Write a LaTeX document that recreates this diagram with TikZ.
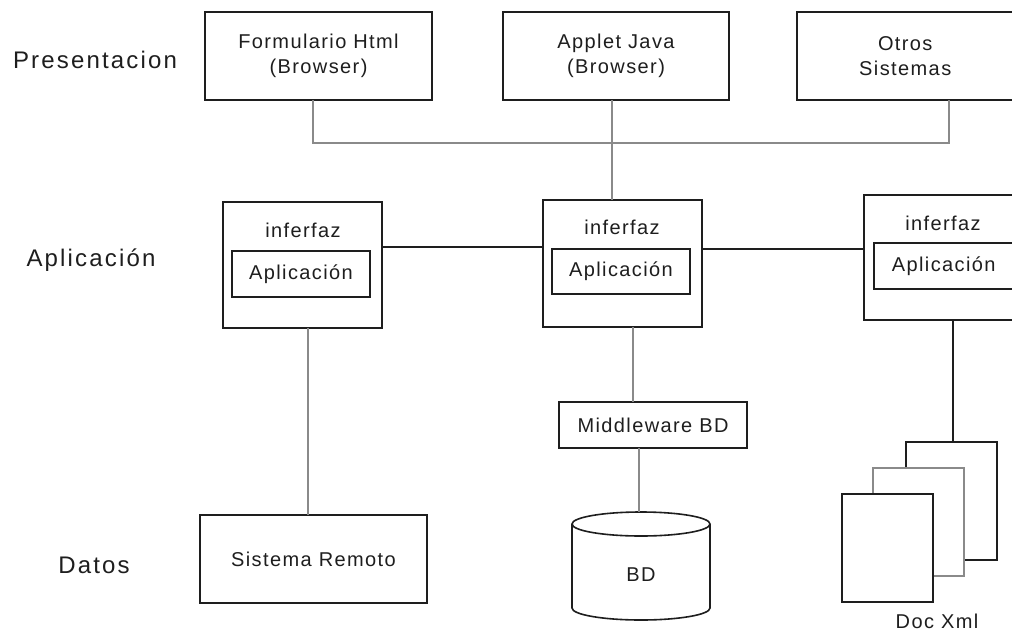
\documentclass[tikz,border=0pt]{standalone}
\usepackage{fontspec}
\setmainfont{Liberation Sans}
\newfontfamily\boxfont[LetterSpace=7]{Liberation Sans}
\newfontfamily\tierfont[LetterSpace=9]{Liberation Sans}
\definecolor{ink}{HTML}{1E1E1E}
\definecolor{linkgrey}{HTML}{8A8A8A}
\tikzset{
  box/.style={draw=ink, line width=1.8pt, fill=white, inner sep=0pt, outer sep=0pt,
    align=center, text=ink, font={\boxfont\fontsize{20}{24.5}\selectfont}},
  txt/.style={inner sep=0pt, text=ink, align=center, font={\boxfont\fontsize{20}{24.5}\selectfont}},
  tier/.style={inner sep=0pt, anchor=base, text=ink, font={\tierfont\fontsize{24}{28}\selectfont}},
  glink/.style={draw=linkgrey, line width=2.6pt},
  blink/.style={draw=ink, line width=1.5pt},
  sheet/.style={draw=ink, line width=1.8pt, fill=white, minimum width=91pt},
}
\begin{document}
\begin{tikzpicture}[x=1pt, y=-1pt]
\path[use as bounding box, clip] (0,0) rectangle (1012,632);
\fill[white] (0,0) rectangle (1012,632);

% tier titles
\node[tier] (tp) at (95,68) {Presentacion};
\node[tier] (ta) at (91,266) {Aplicación};
\node[tier] (td) at (94,573) {Datos};

% presentation layer
\node[box, minimum width=227pt, minimum height=88pt] (form) at (318.5,56) {Formulario Html\\(Browser)};
\node[box, minimum width=226pt, minimum height=88pt] (app) at (616,56) {Applet Java\\(Browser)};
\node[box, minimum width=216.5pt, minimum height=88pt] (oth) at (905.25,56) {Otros\\Sistemas};

% application layer
\node[box, minimum width=159pt, minimum height=126pt] (midL) at (302.5,265) {};
\node[txt] (ifL) at (303,230) {inferfaz};
\node[box, minimum width=138pt, minimum height=46pt] (apL) at (301,274) {Aplicación};

\node[box, minimum width=159pt, minimum height=127pt] (midC) at (622.5,263.5) {};
\node[txt] (ifC) at (622,227) {inferfaz};
\node[box, minimum width=138pt, minimum height=45pt] (apC) at (621,271.5) {Aplicación};

\node[box, minimum width=149.5pt, minimum height=125pt] (midR) at (938.75,257.5) {};
\node[txt] (ifR) at (943,223) {inferfaz};
\node[box, minimum width=139.5pt, minimum height=46pt] (apR) at (943.75,266) {Aplicación};

% data layer
\node[box, minimum width=227pt, minimum height=88pt] (sis) at (313.5,559) {Sistema Remoto};
\node[box, minimum width=188pt, minimum height=46pt] (mw) at (653,425) {Middleware BD};

% database cylinder
\draw[ink, line width=1.6pt, fill=white] (572,524) -- (572,608)
  arc[start angle=180, end angle=0, x radius=69, y radius=12] -- (710,524);
\draw[ink, line width=1.6pt, fill=white] (641,524) ellipse [x radius=69, y radius=12];
\coordinate (bdtop) at (639,512);
\node[txt] (bd) at (641,575) {BD};

% stacked documents
\node[sheet, minimum height=118pt] (d1) at (951.5,501) {};
\node[sheet, draw=linkgrey, minimum height=108pt] (d2) at (918.5,522) {};
\node[sheet, minimum height=108pt] (d3) at (887.5,548) {};
\node[txt] (dx) at (937,621) {Doc Xml};

% connector columns and rows
\coordinate (xf) at (313,0);
\coordinate (xa) at (612,0);
\coordinate (xo) at (949,0);
\coordinate (bus) at (0,143);
\coordinate (yl) at (0,247);
\coordinate (yr) at (0,249);
\coordinate (xl) at (308,0);
\coordinate (xc) at (633,0);
\coordinate (xm) at (639,0);
\coordinate (xr) at (953,0);

% presentation bus
\draw[glink] (form.south -| xf) -- (xf |- bus) -- (xo |- bus) -- (oth.south -| xo);
\draw[glink] (app.south -| xa) -- (midC.north -| xa);

% application links
\draw[blink] (midL.east |- yl) -- (midC.west |- yl);
\draw[blink] (midC.east |- yr) -- (midR.west |- yr);

% data links
\draw[glink] (midL.south -| xl) -- (sis.north -| xl);
\draw[glink] (midC.south -| xc) -- (mw.north -| xc);
\draw[glink] (mw.south -| xm) -- (bdtop);
\draw[blink] (midR.south -| xr) -- (d1.north -| xr);
\end{tikzpicture}
\end{document}
